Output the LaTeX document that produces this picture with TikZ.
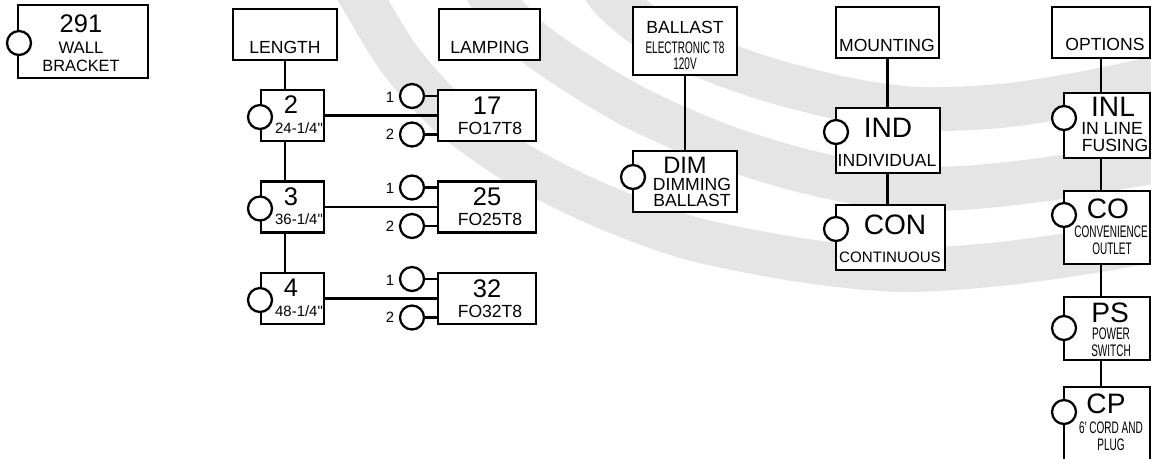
\documentclass[tikz,border=0pt]{standalone}
\usepackage{graphicx}
\usepackage{fontspec}
\setmainfont{Liberation Sans}
\usetikzlibrary{calc}
\definecolor{swoosh}{RGB}{229, 229, 229}
\newcommand{\narrow}[1]{\scalebox{0.6}[1]{#1}}

\begin{document}
\begin{tikzpicture}[x=0.02cm, y=-0.02cm, line width=1.3pt,
    pbox/.style={draw, rectangle, fill=white, inner sep=0pt},
    dims/.style 2 args={minimum width=#1*0.02cm, minimum height=#2*0.02cm},
    knob/.style={circle, draw, fill=white, minimum size=0.48cm, inner sep=0pt},
    hugetxt/.style={font=\fontsize{16}{16}\selectfont, inner sep=0pt},
    numtxt/.style={font=\fontsize{14.5}{14.5}\selectfont, inner sep=0pt},
    lbl/.style={font=\fontsize{10}{10}\selectfont, inner sep=0pt},
    smalltxt/.style={font=\fontsize{8.5}{8.5}\selectfont, inner sep=0pt},
    condtxt/.style={font=\fontsize{9.5}{9.5}\selectfont, inner sep=0pt}]
        \useasboundingbox (0,0) rectangle (1151,458);

        % background swooshes
        \draw[swoosh, line width=25pt] plot[smooth] coordinates {(352,-20) (363,0) (400,60) (450,115) (520,165) (600,205) (690,238) (800,260) (900,270) (1000,264) (1100,250) (1175,236)};
        \draw[swoosh, line width=25pt] plot[smooth] coordinates {(482,-20) (493,0) (530,40) (580,75) (640,110) (720,145) (800,170) (880,186) (960,188) (1055,178) (1175,158)};
        \draw[swoosh, line width=25pt] plot[smooth] coordinates {(600,-20) (613,0) (650,30) (700,55) (770,80) (850,100) (920,109) (1000,106) (1080,94) (1175,74)};

        % wall bracket
        \node[pbox, dims={130}{73}] (wall) at (83,41.5) {};
        \node[knob] (wallk) at (19,43) {};
        \node[numtxt] (wallnum) at (81,24) {291};
        \node[lbl, font=\fontsize{9.5}{9.5}\selectfont] (walla) at (81,47.5) {WALL};
        \node[lbl, font=\fontsize{9.3}{9.3}\selectfont] (wallb) at (81,66) {BRACKET};

        % length and lamping
        \node[pbox, dims={104}{51}] (len) at (285,34.5) {};
        \node[lbl] (lentxt) at (285,47) {LENGTH};
        \node[pbox, dims={101}{51}] (lamp) at (489.5,34.5) {};
        \node[lbl] (lamptxt) at (490,47) {LAMPING};
        \foreach \n/\d/\t/\w in {2/{24-1/4\textquotedbl}/90/17, 3/{36-1/4\textquotedbl}/181.5/25, 4/{48-1/4\textquotedbl}/273/32} {
            \node[pbox, dims={63}{51}] (L\n) at (292.5,\t+25.5) {};
            \node[knob] (Lk\n) at (260,\t+27) {};
            \node[numtxt] (Ln\n) at (291,\t+15) {\n};
            \node[smalltxt] (Ld\n) at (299,\t+38) {\d};
            \node[pbox, dims={98}{51}] (T\w) at (487,\t+25.5) {};
            \node[numtxt] (Tn\w) at (487,\t+15.5) {\w};
            \node[lbl] (Tf\w) at (490,\t+38) {FO\w T8};
            \node[knob] (Ta\w) at (412,\t+6) {};
            \node[knob] (Tb\w) at (412,\t+44.5) {};
            \node[smalltxt] (Tp\w) at (390,\t+7) {1};
            \node[smalltxt] (Tq\w) at (390,\t+44.5) {2};
            \draw (L\n.east) -- (L\n.east -| T\w.west);
            \draw (Ta\w.east) -- (Ta\w.east -| T\w.west);
            \draw (Tb\w.east) -- (Tb\w.east -| T\w.west);
        }
        \draw (len.south) -- (len.south |- L2.north);
        \draw (len.south |- L2.south) -- (len.south |- L3.north);
        \draw (len.south |- L3.south) -- (len.south |- L4.north);

        % ballast
        \node[pbox, dims={104}{68}] (bal) at (685,41) {};
        \node[lbl] (baltxt) at (685,27) {BALLAST};
        \node[condtxt] (balel) at (685,48) {\narrow{ELECTRONIC T8}};
        \node[condtxt] (balv) at (685,64) {\narrow{120V}};
        \node[pbox, dims={104}{61}] (dim) at (685,181.5) {};
        \node[knob] (dimk) at (633,177) {};
        \node[numtxt, font=\fontsize{13.5}{13.5}\selectfont] (dimtxt) at (685,165) {DIM};
        \node[lbl] (dima) at (692,184) {DIMMING};
        \node[lbl] (dimb) at (692,200) {BALLAST};
        \draw (bal.south) -- (dim.north);

        % mounting
        \node[pbox, dims={103}{51}] (mnt) at (887.5,32.5) {};
        \node[lbl] (mnttxt) at (887,45) {MOUNTING};
        \node[pbox, dims={104}{65}] (ind) at (888,140.5) {};
        \node[knob] (indk) at (836,132) {};
        \node[hugetxt] (indtxt) at (888,128) {IND};
        \node[lbl] (inda) at (887,161) {INDIVIDUAL};
        \node[pbox, dims={109}{65}] (con) at (890.5,237.5) {};
        \node[knob] (conk) at (836,229) {};
        \node[hugetxt] (contxt) at (895,225) {CON};
        \node[lbl, font=\fontsize{8.6}{8.6}\selectfont] (cona) at (890,257) {CONTINUOUS};
        \draw (mnt.south) -- (mnt.south |- ind.north);
        \draw (mnt.south |- ind.south) -- (mnt.south |- con.north);

        % options
        \node[pbox, dims={98}{51}] (opt) at (1101,32.5) {};
        \node[lbl] (opttxt) at (1105,44) {OPTIONS};
        \node[pbox, dims={86}{65}] (inl) at (1107,125.5) {};
        \node[knob] (inlk) at (1064,118) {};
        \node[hugetxt] (inltxt) at (1113,107) {INL};
        \node[lbl] (inla) at (1112,128) {IN LINE};
        \node[lbl] (inlb) at (1115,145) {FUSING};
        \node[pbox, dims={86}{73}] (co) at (1107,227.5) {};
        \node[knob] (cok) at (1064,215) {};
        \node[hugetxt] (cotxt) at (1108,209) {CO};
        \node[condtxt] (coa) at (1111,232) {\narrow{CONVENIENCE}};
        \node[condtxt] (cob) at (1112,249) {\narrow{OUTLET}};
        \node[pbox, dims={86}{63}] (ps) at (1107,328.5) {};
        \node[knob] (psk) at (1064,328) {};
        \node[hugetxt] (pstxt) at (1110,313) {PS};
        \node[condtxt] (psa) at (1111,334) {\narrow{POWER}};
        \node[condtxt] (psb) at (1111,351) {\narrow{SWITCH}};
        \node[pbox, dims={86}{90}] (cp) at (1107,432) {};
        \node[knob] (cpk) at (1064,412) {};
        \node[hugetxt] (cptxt) at (1106,404) {CP};
        \node[condtxt] (cpa) at (1111,428) {\narrow{6\textquotesingle{} CORD AND}};
        \node[condtxt] (cpb) at (1111,445) {\narrow{PLUG}};
        \draw (opt.south) -- (opt.south |- inl.north);
        \draw (opt.south |- inl.south) -- (opt.south |- co.north);
        \draw (opt.south |- co.south) -- (opt.south |- ps.north);
        \draw (opt.south |- ps.south) -- (opt.south |- cp.north);
    \end{tikzpicture}
\end{document}
